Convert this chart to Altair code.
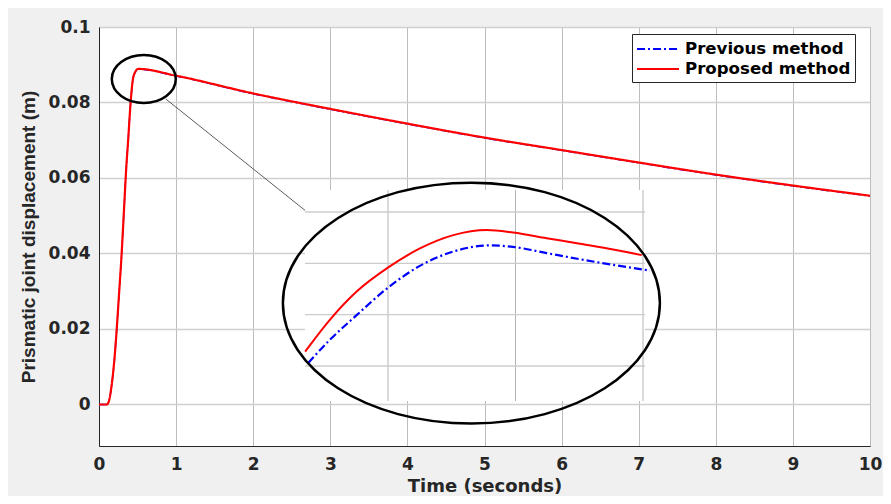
import altair as alt
import pandas as pd

# ---------------- data ----------------
methods = ["Previous method", "Proposed method"]
colors = ["#0000ff", "#ff0000"]
dashes = [[8, 3, 2, 3], [1, 0]]

t_main = [0, 0.10, 0.13, 0.16, 0.20, 0.23, 0.26, 0.29, 0.32, 0.35, 0.38, 0.41,
          0.44, 0.47, 0.49, 0.51, 1, 2, 3, 4, 5, 6, 7, 8, 9, 10]
prop_main = [0, 0, 0.0010, 0.0045, 0.0120, 0.0200, 0.0293, 0.0387, 0.0499, 0.0615,
             0.0706, 0.0800, 0.0862, 0.0881, 0.0887, 0.0889, 0.0871, 0.0824, 0.0783,
             0.0744, 0.0707, 0.0674, 0.0641, 0.0609, 0.0580, 0.0553]
prev_main = [0, 0, 0.0009, 0.0044, 0.0119, 0.0199, 0.0292, 0.0386, 0.0498, 0.0614,
             0.0705, 0.0799, 0.0861, 0.0880, 0.0886, 0.0888, 0.0870, 0.0823, 0.0782,
             0.0743, 0.0706, 0.0673, 0.0640, 0.0608, 0.0579, 0.0552]

x_domain = [0, 10]
y_domain = [-0.011, 0.1]
x_ticks = list(range(0, 11))
y_ticks = [0, 0.02, 0.04, 0.06, 0.08, 0.1]

# annotation anchors (main data coordinates)
zoom_circle_t = [0.581]
zoom_circle_v = [0.0862]
connector_t = [0.865, 2.905]
connector_v = [0.08095, 0.04762]
ellipse_t = [4.83]
ellipse_v = [0.02685]

# inset (zoomed view) data
inset_t_prop = [0.4175, 0.4272, 0.4377, 0.4501, 0.4625, 0.4756, 0.4887, 0.4991,
                0.5122, 0.5253, 0.5383, 0.5495]
inset_v_prop = [0.08628, 0.08690, 0.08745, 0.08792, 0.08829, 0.08855, 0.08865,
                0.08860, 0.08849, 0.08838, 0.08827, 0.08816]
inset_t_prev = [0.4187, 0.4272, 0.4377, 0.4501, 0.4625, 0.4756, 0.4900, 0.4991,
                0.5122, 0.5253, 0.5383, 0.5527]
inset_v_prev = [0.08606, 0.08651, 0.08699, 0.08753, 0.08795, 0.08823, 0.08835,
                0.08832, 0.08820, 0.08808, 0.08797, 0.08786]
inset_x_domain = [0.41745, 0.55078]
inset_y_domain = [0.085318, 0.089429]
inset_x_ticks = [0.45, 0.50, 0.55]
inset_y_ticks = [0.086, 0.087, 0.088, 0.089]

# ---------------- layout ----------------
W, H = 771, 419
INSET_X_RANGE = [206, 546]
INSET_Y_RANGE = [374, 163]

main_df = pd.concat([
    pd.DataFrame({"t": t_main, "v": prev_main, "method": methods[0]}),
    pd.DataFrame({"t": t_main, "v": prop_main, "method": methods[1]}),
], ignore_index=True)

xs = alt.Scale(domain=x_domain, nice=False, zero=False)
ys = alt.Scale(domain=y_domain, nice=False, zero=False)
x_axis = alt.Axis(values=x_ticks, format="d", title="Time (seconds)", labelFlush=False)
y_axis = alt.Axis(values=y_ticks, format="~g", title="Prismatic joint displacement (m)",
                  labelFlush=False)

legend_kw = dict(
    title=None, orient="none", legendX=533, legendY=7, direction="vertical",
    fillColor="white", strokeColor="#262626", padding=4, cornerRadius=0,
    symbolType="M -1 0 L 3.2 0", symbolSize=400, symbolStrokeWidth=2,
    labelFont="DejaVu Sans", labelFontWeight="bold", labelFontSize=16.6,
    labelColor="black", labelOffset=27, rowPadding=0, labelLimit=300,
)

def main_line(name, width):
    return alt.Chart(main_df).transform_filter(
        alt.datum.method == name
    ).mark_line(strokeWidth=width, interpolate="monotone").encode(
        x=alt.X("t:Q", scale=xs, axis=x_axis),
        y=alt.Y("v:Q", scale=ys, axis=y_axis),
        color=alt.Color("method:N", scale=alt.Scale(domain=methods, range=colors),
                        legend=alt.Legend(**legend_kw)),
        strokeDash=alt.StrokeDash("method:N", scale=alt.Scale(domain=methods, range=dashes),
                                  legend=alt.Legend(**legend_kw)),
    )

lines_prev = main_line(methods[0], 1.4)
lines_prop = main_line(methods[1], 2.2)

small_ell = "M -1 0 C -1 -0.4142 -0.5523 -0.75 0 -0.75 C 0.5523 -0.75 1 -0.4142 1 0 C 1 0.4142 0.5523 0.75 0 0.75 C -0.5523 0.75 -1 0.4142 -1 0 Z"
big_ell = "M -1 0 C -1 -0.3529 -0.5523 -0.639 0 -0.639 C 0.5523 -0.639 1 -0.3529 1 0 C 1 0.3529 0.5523 0.639 0 0.639 C -0.5523 0.639 -1 0.3529 -1 0 Z"

circle = alt.Chart(pd.DataFrame({"t": zoom_circle_t, "v": zoom_circle_v})).mark_point(
    shape=small_ell, size=4096, filled=False, stroke="black", strokeWidth=2.5, opacity=1
).encode(x=alt.X("t:Q", scale=xs, axis=x_axis), y=alt.Y("v:Q", scale=ys, axis=y_axis))

connector = alt.Chart(pd.DataFrame({"t": [connector_t[0]], "t2": [connector_t[1]],
                                     "v": [connector_v[0]], "v2": [connector_v[1]]})).mark_rule(
    color="#333333", strokeWidth=0.8
).encode(x=alt.X("t:Q", scale=xs, axis=x_axis), x2="t2:Q",
         y=alt.Y("v:Q", scale=ys, axis=y_axis), y2="v2:Q")

main = alt.layer(lines_prev, lines_prop, circle, connector)

# ---------------- inset ----------------
ixs = alt.Scale(domain=inset_x_domain, range=INSET_X_RANGE, nice=False, zero=False)
iys = alt.Scale(domain=inset_y_domain, range=INSET_Y_RANGE, nice=False, zero=False)

inset_bg = alt.Chart(pd.DataFrame({"x0": [inset_x_domain[0]], "x1": [inset_x_domain[1]],
                                    "y0": [inset_y_domain[0]], "y1": [inset_y_domain[1]]})).mark_rect(
    fill="white"
).encode(x=alt.X("x0:Q", scale=ixs, axis=None), x2="x1:Q",
         y=alt.Y("y0:Q", scale=iys, axis=None), y2="y1:Q")

inset_vgrid = alt.Chart(pd.DataFrame({"x0": inset_x_ticks, "y0": inset_y_domain[0],
                                       "y1": inset_y_domain[1]})).mark_rule(
    color="#b4b4b4", strokeWidth=1
).encode(x=alt.X("x0:Q", scale=ixs, axis=None),
         y=alt.Y("y0:Q", scale=iys, axis=None), y2="y1:Q")

inset_hgrid = alt.Chart(pd.DataFrame({"y0": inset_y_ticks, "x0": inset_x_domain[0],
                                       "x1": inset_x_domain[1]})).mark_rule(
    color="#cccccc", strokeWidth=1.3
).encode(x=alt.X("x0:Q", scale=ixs, axis=None), x2="x1:Q",
         y=alt.Y("y0:Q", scale=iys, axis=None))

inset_prev = alt.Chart(pd.DataFrame({"x0": inset_t_prev, "y0": inset_v_prev})).mark_line(
    color=colors[0], strokeWidth=2.2, strokeDash=dashes[0], interpolate="monotone"
).encode(x=alt.X("x0:Q", scale=ixs, axis=None), y=alt.Y("y0:Q", scale=iys, axis=None))

inset_prop = alt.Chart(pd.DataFrame({"x0": inset_t_prop, "y0": inset_v_prop})).mark_line(
    color=colors[1], strokeWidth=2, interpolate="monotone"
).encode(x=alt.X("x0:Q", scale=ixs, axis=None), y=alt.Y("y0:Q", scale=iys, axis=None))

inset = alt.layer(inset_bg, inset_vgrid, inset_hgrid, inset_prev, inset_prop)

ellipse = alt.Chart(pd.DataFrame({"t": ellipse_t, "v": ellipse_v})).mark_point(
    shape=big_ell, size=142129, filled=False, stroke="black", strokeWidth=2.5, opacity=1
).encode(x=alt.X("t:Q", scale=xs, axis=None), y=alt.Y("v:Q", scale=ys, axis=None))

chart = alt.layer(main, inset, ellipse).resolve_scale(
    x="independent", y="independent"
).properties(
    width=W, height=H,
    autosize=alt.AutoSizeParams(type="none"),
    padding={"left": 91, "top": 19, "right": 13, "bottom": 50},
    background="#f0f0f0",
).configure_view(
    fill="white", stroke="#9a9a9a", strokeWidth=1
).configure_axis(
    labelFont="DejaVu Sans", labelFontWeight="bold", labelFontSize=16,
    labelColor="#262626", titleColor="#262626", domainColor="#262626",
    domainWidth=1, ticks=False, tickSize=0,
).configure_axisX(
    titleFont="DejaVu Sans", titleFontSize=18, titleFontWeight="bold",
    labelFontSize=17, gridColor="#bdbdbd", gridWidth=1, labelPadding=10, titlePadding=5,
).configure_axisY(
    titleFont="Liberation Sans", titleFontSize=19, titleFontWeight="bold",
    labelFontSize=17, gridColor="#d0d0d0", gridWidth=1.3, labelPadding=9, titlePadding=10,
)

chart.save("out.html", embed_options={"renderer": "svg", "actions": False})
